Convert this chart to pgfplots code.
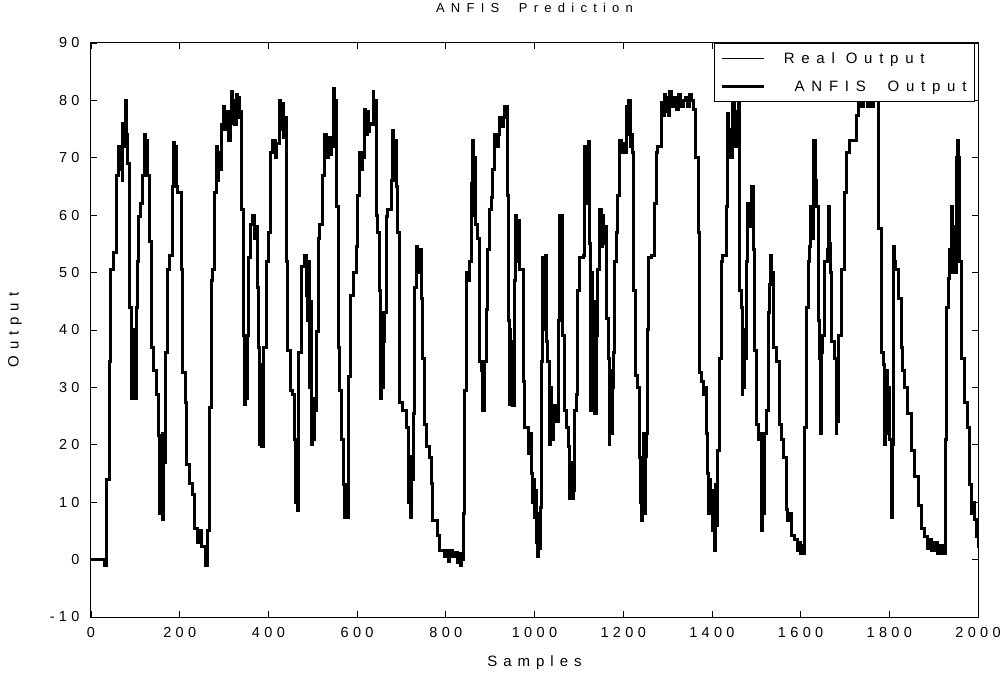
\documentclass[border=0pt]{standalone}
\usepackage{fontspec}
\setmainfont{Liberation Sans}
\newfontfamily\lbl{Liberation Sans}[LetterSpace=40]
\newfontfamily\lgd{Liberation Sans}[LetterSpace=45]
\newfontfamily\ttl{Liberation Sans}[LetterSpace=48]
\newfontfamily\tck{Liberation Sans}[LetterSpace=30]
\usepackage{pgfplots}
\usepackage{pgfplotstable}
\pgfplotsset{compat=1.18}
\pgfplotstableread{
x y
0 0
30 -1
34 14
42 34.5
44 50.6
50 53.5
57 67
61 72
64 68
67 71.5
70 66
72 76
75 72
77 80
80 74
83 69
87 44
91 28
93 40
95 30
97 37
99 28
102 44
104 52
107 59.7
112 62
117 67
121 74
124 69
126 73
128 67
132 55.5
136 37
142 33
147 28.7
153 21.6
155 8
157 20
159 12
161 22
162 7
164 17
168 36
172 50.6
177 53
183 65
185 72.6
188 67
190 72
192 65
196 64
204 50.6
207 32.6
213 27.4
216 16.5
222 13.2
228 11.3
234 5.5
241 3
245 5
250 2.3
258 -1
262 5
268 26.5
271 48.7
275 50.6
279 64
282 72
285 66
288 71
290 68
294 75.8
299 79
302 75
305 78
309 77.7
311 73
314 78
316 81.6
319 76
322 80
324 75.8
328 81
331 77
333 80.5
335 78
339 61
343 39
346 27
348 36
350 28
352 39
355 52.6
360 58.4
365 60
369 56
373 58
375 47.4
378 37
380 20
382 34
384 19.7
388 37
395 52
400 57
405 71
410 73
415 70
419 72.5
425 80
428 75
431 79.5
434 73.5
436 77
440 52
444 36.5
450 29.4
455 28.7
459 21
461 10
463 18
465 8.5
467 36
474 51
482 53
485 46
489 41.6
491 52
493 30
495 45
497 20
499 28
501 21
504 26
508 39.7
512 56
516 58.4
523 67
527 74
531 70
535 73.5
539 70.5
542 72
546 82
548 76.5
549 80
553 61.6
557 37
560 29.4
564 21
570 13
572 7.4
574 12
576 8
578 13
580 7.4
581 31.9
585 46
591 50
598 54.5
602 63.5
606 71
609 68
613 70
617 78.4
620 74
623 78
626 74.5
628 76
632 75.8
636 81.6
638 76
640 80
643 60
647 57
651 46.8
653 28
655 43
657 30
660 38
662 43
666 59.7
669 61
677 66
680 74.8
683 66
685 73
688 65
692 57
696 27.4
703 26
711 23
715 19.7
717 10
719 18
721 7.4
723 14
728 25.5
730 47.4
733 54.5
737 50
741 54
745 45.5
748 35
752 23.5
756 19.7
763 17.7
767 13.2
771 6.8
782 4.2
786 1.6
797 0.5
801 1.6
805 -0.3
809 1.5
815 0.5
820 1.2
827 -0.5
831 1
833 -1
835 0
839 8
843 29.4
846 50
850 48.7
854 52
857 65.5
860 73
862 60
864 70
866 58.4
872 56
876 34.5
880 33
882 26
884 33
886 26
887 34.5
891 43.5
895 54
899 61
902 63
906 68
910 74
914 72
918 74
921 77
925 75.5
929 77
932 79
938 63.5
941 41.6
943 27
945 40
947 28
949 38
951 26.8
954 48.7
957 60
960 52
963 59
967 50.6
975 31
978 23
986 18.4
990 22
993 15
996 10
998 14
1000 7.4
1003 12
1005 3
1007 0.5
1010 8
1012 2
1014 9
1016 34.5
1019 52.6
1023 40
1025 53
1027 38
1030 34.5
1034 20
1036 30
1038 21
1042 24
1045 26.8
1050 24
1053 41.6
1056 60
1058 45
1060 60
1062 39
1068 26
1072 23
1076 19.7
1079 10.6
1082 17
1084 10.6
1087 12
1091 26
1094 28.7
1098 46.8
1102 52.6
1110 53
1113 72
1115 62
1117 70
1119 64
1121 72.9
1124 55
1126 26
1128 50
1130 28
1132 45
1136 25.5
1139 39
1143 50.6
1147 61
1150 54.5
1153 60
1156 55
1158 58
1162 42
1166 35
1168 20
1170 33
1172 22
1175 30
1177 36
1181 52
1185 57
1188 63.5
1192 73
1196 71
1200 72.5
1203 71
1207 79
1210 74
1213 80
1216 72
1218 74
1222 71
1224 46.8
1227 32
1233 30
1236 17.7
1238 10
1240 17
1242 6.8
1244 15
1246 22
1248 8
1250 18
1252 22
1254 40
1256 52.6
1263 53
1271 62
1274 71
1278 72
1286 79.7
1290 77.4
1293 81
1296 78
1299 80.5
1302 77.4
1305 81.6
1310 79
1315 80.5
1320 78.5
1325 81
1330 79
1335 80
1340 80.5
1345 79
1350 81
1355 80
1358 78.5
1364 70
1369 57
1372 32.6
1376 31
1380 28.7
1384 30
1387 22
1391 15
1393 8
1395 14
1397 8
1400 12
1402 5
1404 10
1406 1.6
1408 13
1410 6
1412 19
1417 35
1421 52
1425 53
1432 61.6
1436 77.7
1438 70
1440 75
1443 70
1447 81
1450 72
1453 78
1456 72
1459 78
1460 85
1462 46.8
1466 44
1468 28.7
1470 40
1472 30
1474 35
1478 52
1481 62
1485 58
1488 62
1490 65
1493 54
1496 36.5
1500 23.5
1504 21
1508 22
1512 5
1514 15
1516 8
1518 22
1523 26
1527 43
1530 48
1533 53
1535 48
1538 50
1540 37
1545 34.5
1553 23.5
1556 21
1562 17.7
1568 8.7
1571 6.8
1575 8
1579 4.2
1587 3.5
1592 1.5
1596 3
1600 1
1603 2.5
1605 1
1609 23
1613 44
1617 52
1620 54.5
1623 61.6
1626 56
1628 65
1630 73
1633 66
1635 61.6
1640 41.6
1643 35
1645 22
1647 36
1650 39
1654 52
1660 54
1663 61.6
1666 55
1668 50
1669 38
1677 35
1680 22
1682 32
1684 24
1686 39
1692 50.6
1698 64
1703 71
1710 73
1722 73
1726 77.4
1730 81
1735 79
1741 80
1745 80.5
1750 79
1755 80
1760 79
1765 80
1771 80
1776 57.7
1783 36
1786 34
1789 20
1792 33
1795 22
1798 30
1801 21
1805 7.4
1807 20
1809 54.5
1812 52
1815 50.6
1820 45.5
1827 37
1830 33
1835 30
1842 25.5
1850 19
1857 14.5
1865 9.4
1872 5.5
1880 4
1885 2
1890 3.5
1895 1.6
1902 3
1908 1
1914 2.5
1920 1
1926 21
1929 44
1933 49
1936 54
1940 61.6
1943 50
1946 58
1948 50
1951 70
1953 73
1955 65
1957 70
1958 52
1962 35
1969 27.4
1977 23
1981 13
1985 8
1988 10
1992 7
1996 4
2000 2
}\anfisdata
\begin{document}
\begin{tikzpicture}
\useasboundingbox (-91bp,-65bp) rectangle (913bp,617bp);
\begin{axis}[
  at={(0,0)}, anchor=south west,
  scale only axis, width=887bp, height=574bp,
  xmin=0, xmax=2000, ymin=-10, ymax=90,
  xtick={0,200,...,2000},
  xticklabels={0,200,400,600,800,1000,1200,1400,1600,1800,2000},
  ytick={-10,0,10,...,90},
  yticklabels={{-10},0,10,20,30,40,50,60,70,80,90},
  tick align=inside,
  major tick length=6bp,
  every tick/.style={black, line width=0.8bp},
  axis line style={black, line width=1bp},
  xticklabel style={font=\tck\fontsize{14.5bp}{16bp}\selectfont, anchor=center, yshift=-16bp},
  yticklabel style={font=\tck\fontsize{14.5bp}{16bp}\selectfont, anchor=east, xshift=-8bp},
  title={ANFIS\ \ Prediction},
  title style={font=\ttl\fontsize{13bp}{15bp}\selectfont, at={(axis description cs:0.5,1.0505)}, anchor=center},
  xlabel={Samples},
  xlabel style={font=\lbl\fontsize{15bp}{17bp}\selectfont, at={(axis description cs:0.5,-0.0801)}, anchor=center},
  ylabel={Output},
  ylabel style={font=\lbl\fontsize{15bp}{17bp}\selectfont, at={(axis description cs:-0.0857,0.5)}, anchor=center},
  legend style={at={(axis description cs:0.9966,1)}, anchor=north east, draw=black, line width=1bp,
    font=\lgd\fontsize{15bp}{17bp}\selectfont, fill=white, inner xsep=6bp, inner ysep=7bp,
    row sep=12bp},
  legend cell align=left,
  legend image code/.code={\draw[#1] (0bp,0bp) -- (42bp,0bp); \path[draw=none,fill=none] (0bp,-2bp) rectangle (60bp,2bp);},
]
\addplot[const plot, black, line width=0.6bp] table[x=x,y=y] {\anfisdata};
\addlegendentry{Real Output}
\addplot[const plot, black, line width=3bp] table[x=x,y=y] {\anfisdata};
\addlegendentry{\ ANFIS\ \ Output}
\end{axis}
\end{tikzpicture}
\end{document}
